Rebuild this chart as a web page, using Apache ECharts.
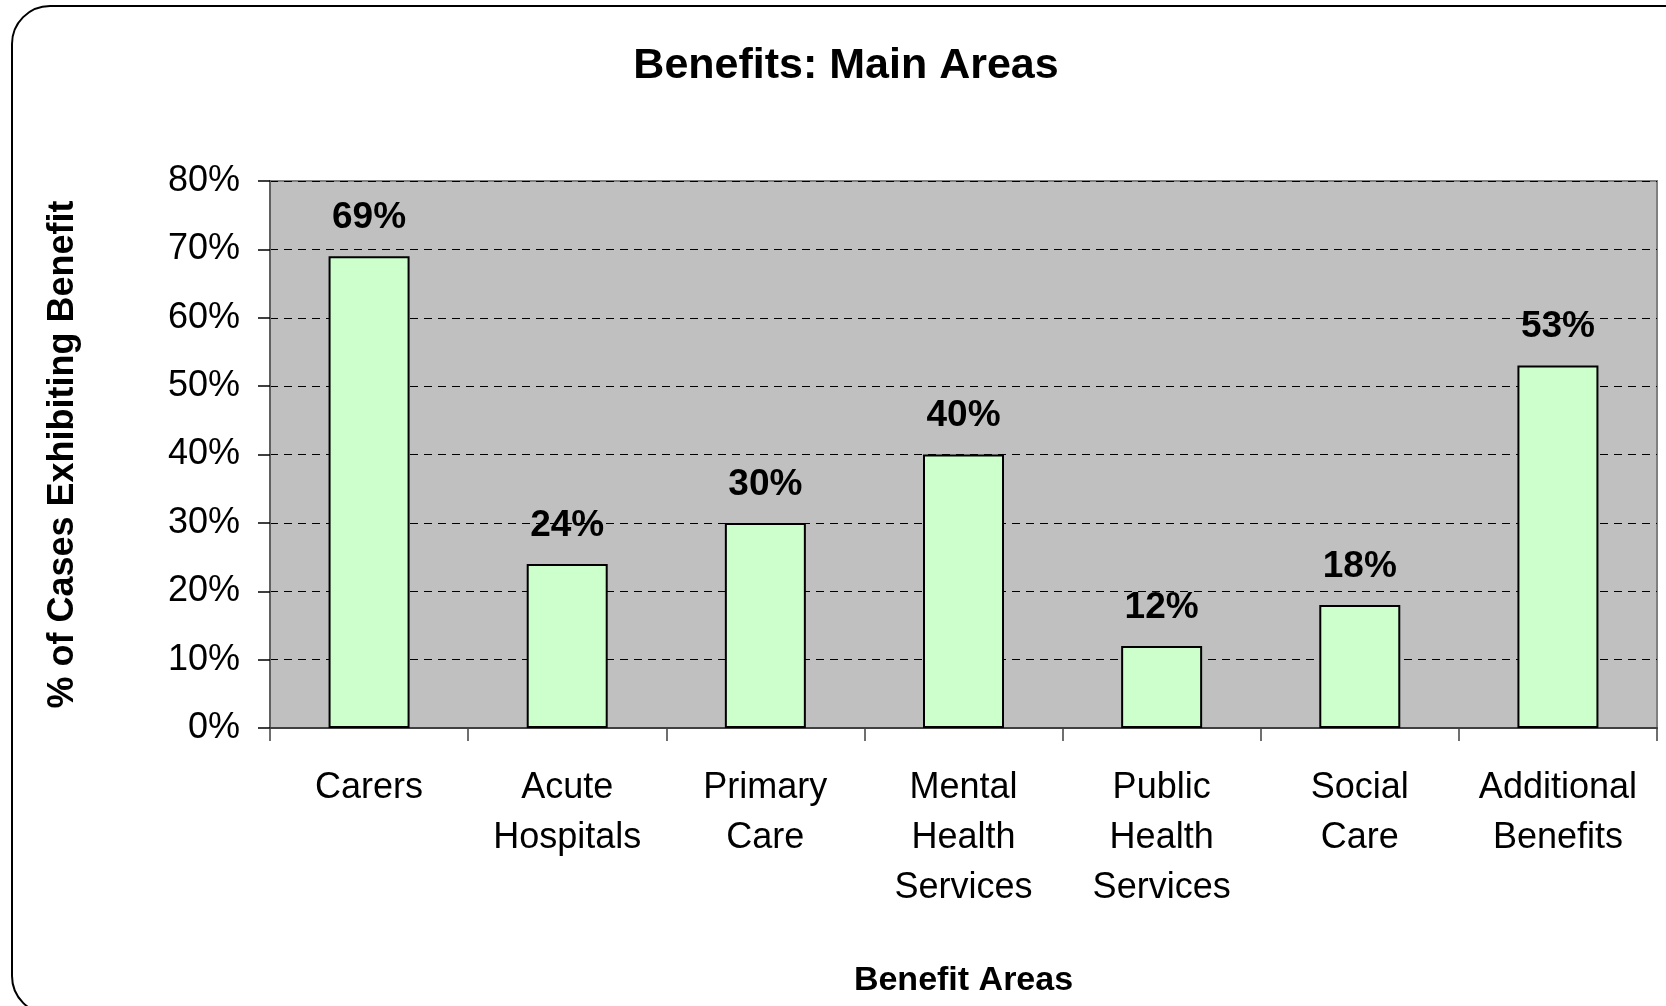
<!DOCTYPE html>
<html>
<head>
<meta charset="utf-8">
<title>Benefits: Main Areas</title>
<script src="https://cdn.jsdelivr.net/npm/echarts@6/dist/echarts.min.js"></script>
<style>
  html, body { margin: 0; padding: 0; background: #ffffff; }
  #chart { width: 1666px; height: 1006px; }
</style>
</head>
<body>
<div id="chart"></div>
<script>
// Benefit areas and the share of cases showing each benefit (%)
const categories = [
  'Carers',
  'Acute\nHospitals',
  'Primary\nCare',
  'Mental\nHealth\nServices',
  'Public\nHealth\nServices',
  'Social\nCare',
  'Additional\nBenefits'
];
const casePercent = [69, 24, 30, 40, 12, 18, 53];

// Value axis range and step (%)
const yMin = 0;
const yMax = 80;
const yStep = 10;

const FONT = '"Liberation Sans", Arial, Helvetica, sans-serif';

const chart = echarts.init(document.getElementById('chart'), null, { renderer: 'canvas' });

chart.setOption({
  animation: false,
  backgroundColor: '#ffffff',
  textStyle: { fontFamily: FONT, color: '#000' },
  title: {
    text: 'Benefits: Main Areas',
    left: 841,
    textAlign: 'center',
    top: 40,
    textStyle: { fontFamily: FONT, fontSize: 43, fontWeight: 'bold', color: '#000' }
  },
  graphic: [{
    type: 'rect',
    silent: true,
    z: -1,
    shape: { x: 12, y: 6, width: 1690, height: 1008, r: 38 },
    style: { fill: 'none', stroke: '#000', lineWidth: 2 }
  }],
  grid: {
    left: 270,
    top: 181,
    right: 9,
    bottom: 278,
    show: true,
    backgroundColor: '#C0C0C0',
    borderColor: '#808080',
    borderWidth: 2,
    containLabel: false
  },
  xAxis: {
    type: 'category',
    data: categories,
    name: 'Benefit Areas',
    nameLocation: 'middle',
    nameGap: 236,
    nameTextStyle: { fontFamily: FONT, fontSize: 34, fontWeight: 'bold', color: '#000' },
    axisLine: { show: true, lineStyle: { color: '#404040', width: 2 } },
    axisTick: { show: true, length: 13, lineStyle: { color: '#404040', width: 1.5 } },
    axisLabel: {
      margin: 35,
      interval: 0,
      fontFamily: FONT,
      fontSize: 36,
      lineHeight: 50,
      color: '#000',
      align: 'center'
    },
    splitLine: { show: false }
  },
  yAxis: {
    type: 'value',
    min: yMin,
    max: yMax,
    interval: yStep,
    name: '% of Cases Exhibiting Benefit',
    nameLocation: 'middle',
    nameGap: 189,
    nameRotate: 90,
    nameTextStyle: { fontFamily: FONT, fontSize: 36, fontWeight: 'bold', color: '#000' },
    axisLine: { show: true, lineStyle: { color: '#606060', width: 2 } },
    axisTick: { show: true, length: 12, lineStyle: { color: '#000', width: 1.5 } },
    axisLabel: {
      margin: 30,
      fontFamily: FONT,
      fontSize: 36,
      color: '#000',
      formatter: '{value}%'
    },
    splitLine: {
      show: true,
      lineStyle: { color: '#000', width: 1, type: [8, 6] }
    }
  },
  series: [{
    type: 'bar',
    data: casePercent,
    barWidth: 81,
    itemStyle: { color: '#CCFFCC', borderColor: '#000', borderWidth: 2 },
    label: {
      show: true,
      position: 'top',
      distance: 20,
      fontFamily: FONT,
      fontSize: 37,
      fontWeight: 'bold',
      color: '#000',
      formatter: p => p.value + '%'
    }
  }]
});
</script>
</body>
</html>
